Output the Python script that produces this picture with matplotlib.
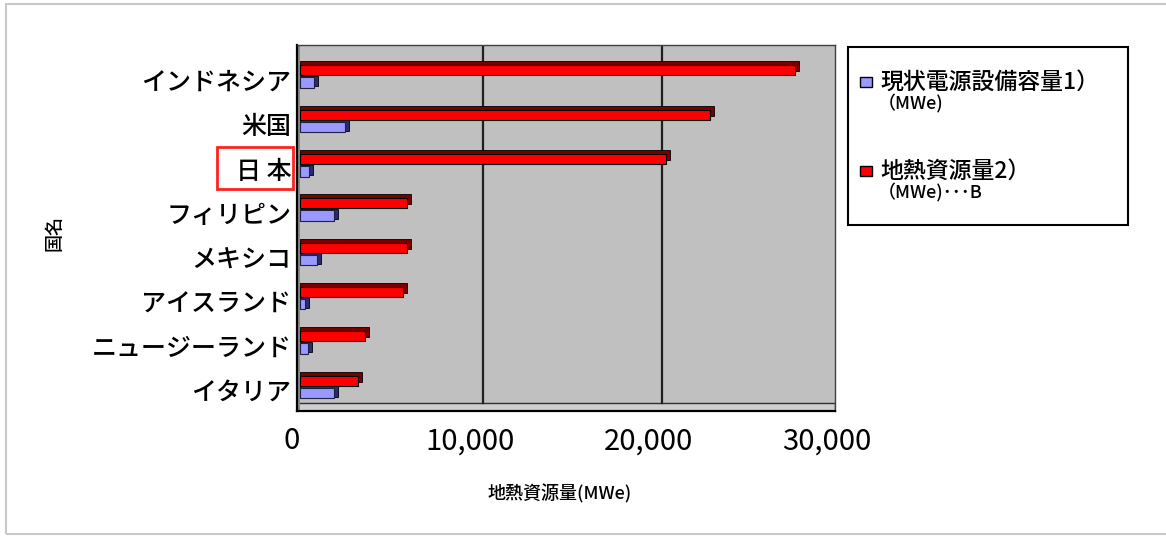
import matplotlib
matplotlib.use("Agg")
import numpy as np
import matplotlib.pyplot as plt
from matplotlib.patches import Rectangle
from matplotlib.transforms import ScaledTranslation

plt.rcParams['font.family'] = ['Noto Sans CJK JP', 'DejaVu Sans']

# ==========================================
# DATA
# ==========================================
countries = ["インドネシア", "米国", "日 本", "フィリピン",
             "メキシコ", "アイスランド", "ニュージーランド", "イタリア"]
installed = [800, 2500, 480, 1900, 960, 300, 450, 1900]            # 現状電源設備容量 (MWe)
resources = [27790, 23000, 20540, 6000, 6000, 5800, 3650, 3270]     # 地熱資源量 (MWe)
x_ticks = [0, 10000, 20000, 30000]
x_tick_labels = ["0", "10,000", "20,000", "30,000"]
grid_values = [10000, 20000]

legend_labels = [("現状電源設備容量1）", "（MWe)"),
                 ("地熱資源量2）", "（MWe)･･･B")]

# colours
RED = "#ff0000"
RED_DARK = "#7a0000"
BLUE = "#9999ff"
BLUE_DARK = "#2a2a70"
WALL = "#c0c0c0"

W, H = 1166, 536
DPI = 100


def fx(x):
    return x / W


def fy(y):
    return 1 - y / H


# ==========================================
# FIGURE
# ==========================================
fig = plt.figure(figsize=(W / DPI, H / DPI), dpi=DPI)
fig.patch.set_facecolor("white")

# outer light frame
fig.add_artist(Rectangle((fx(6), fy(534)), fx(1200) - fx(6), fy(4) - fy(534),
                         transform=fig.transFigure, fill=False,
                         edgecolor="#c8c8c8", lw=1.5))

ax_left, ax_right, ax_top, ax_bot = 297, 835, 45, 411
ax = fig.add_axes([fx(ax_left), fy(ax_bot), fx(ax_right) - fx(ax_left), fy(ax_top) - fy(ax_bot)])
ax.set_facecolor(WALL)

px_per_unit = 44.3          # vertical pixels per category
px_per_val = 17.83 / 1000   # horizontal pixels per MWe
ypos = np.arange(len(countries))

y_top = -(80 - ax_top) / px_per_unit
y_bot = (len(countries) - 1) + (ax_bot - 390) / px_per_unit
x_min = -(300 - ax_left) / px_per_val
x_max = (ax_right - 300) / px_per_val
ax.set_xlim(x_min, x_max)
ax.set_ylim(y_bot, y_top)

# pseudo-3D depth offsets
dx = 4 / px_per_val
dy = 4 / px_per_unit

blue_c = ypos + 2.75 / px_per_unit
blue_h = 10.5 / px_per_unit
red_c = ypos - 9.5 / px_per_unit
red_h = 10 / px_per_unit

# floor strip
floor_h = 8 / px_per_unit
ax.axhspan(y_bot, y_bot - floor_h, facecolor="#cfcfcf",
           edgecolor="#303030", lw=1, zorder=1)
# left side wall
ax.axvspan(x_min, 0, facecolor="#8a8a8a", edgecolor="none", zorder=1)

# gridlines on the back wall
grid_off = ax.transData + ScaledTranslation(5 / DPI, 0, fig.dpi_scale_trans)
for g in grid_values:
    ax.plot([g, g], [y_top, y_bot - floor_h], color="#202020", lw=1.6,
            transform=grid_off, zorder=1.5)

# blue bars (side face then front)
ax.barh(blue_c - 1.5 / px_per_unit, np.array(installed) + dx, height=blue_h,
        color=BLUE_DARK, edgecolor="black", lw=0.6, zorder=2)
ax.barh(blue_c, installed, height=blue_h, color=BLUE,
        edgecolor="#202040", lw=0.8, zorder=3)

# red bars (top/side face then front)
ax.barh(red_c - dy, np.array(resources) + dx, height=red_h,
        color=RED_DARK, edgecolor="black", lw=0.6, zorder=4)
ax.barh(red_c, resources, height=red_h, color=RED,
        edgecolor="black", lw=0.8, zorder=5)

# axes styling
for side in ["top", "right"]:
    ax.spines[side].set_color("#404040")
    ax.spines[side].set_linewidth(1)
for side in ["left", "bottom"]:
    ax.spines[side].set_color("black")
    ax.spines[side].set_linewidth(1.6)

ax.set_yticks(ypos)
ax.set_yticklabels(countries, fontsize=18, fontweight="medium")
ax.set_xticks(x_ticks)
ax.set_xticklabels(x_tick_labels, fontsize=21)
ax.tick_params(axis="y", length=0, pad=4)
ax.tick_params(axis="x", length=0, pad=11)
shift = ScaledTranslation(-8 / DPI, 0, fig.dpi_scale_trans)
for lab in ax.get_xticklabels():
    lab.set_transform(lab.get_transform() + shift)

# axis titles
fig.text(fx(560), fy(494), "地熱資源量(MWe)", fontsize=13, fontweight="medium",
         ha="center", va="center")
fig.text(fx(54), fy(233), "国名", fontsize=13, fontweight="medium", rotation=90,
         ha="center", va="center")

# highlight box around 日本
fig.add_artist(Rectangle((fx(217), fy(189)), fx(293) - fx(217), fy(147) - fy(189),
                         transform=fig.transFigure, fill=False,
                         edgecolor="#ff2020", lw=2))

# ==========================================
# LEGEND (drawn by hand to match layout)
# ==========================================
fig.add_artist(Rectangle((fx(848), fy(225)), fx(1128) - fx(848), fy(47) - fy(225),
                         transform=fig.transFigure, fill=False,
                         edgecolor="black", lw=1.5))
legend_rows = [(BLUE, 82, 104), (RED, 171, 193)]
for (col, y1, y2), (l1, l2) in zip(legend_rows, legend_labels):
    fig.add_artist(Rectangle((fx(860), fy(y1 + 5)), fx(872) - fx(860), fy(y1 - 5) - fy(y1 + 5),
                             transform=fig.transFigure, facecolor=col,
                             edgecolor="black", lw=1))
    fig.text(fx(880), fy(y1), l1, fontsize=16.5, fontweight="medium",
             ha="left", va="center")
    fig.text(fx(878), fy(y2), l2, fontsize=13, fontweight="medium",
             ha="left", va="center")

plt.savefig("out.png", dpi=DPI)
plt.close()
